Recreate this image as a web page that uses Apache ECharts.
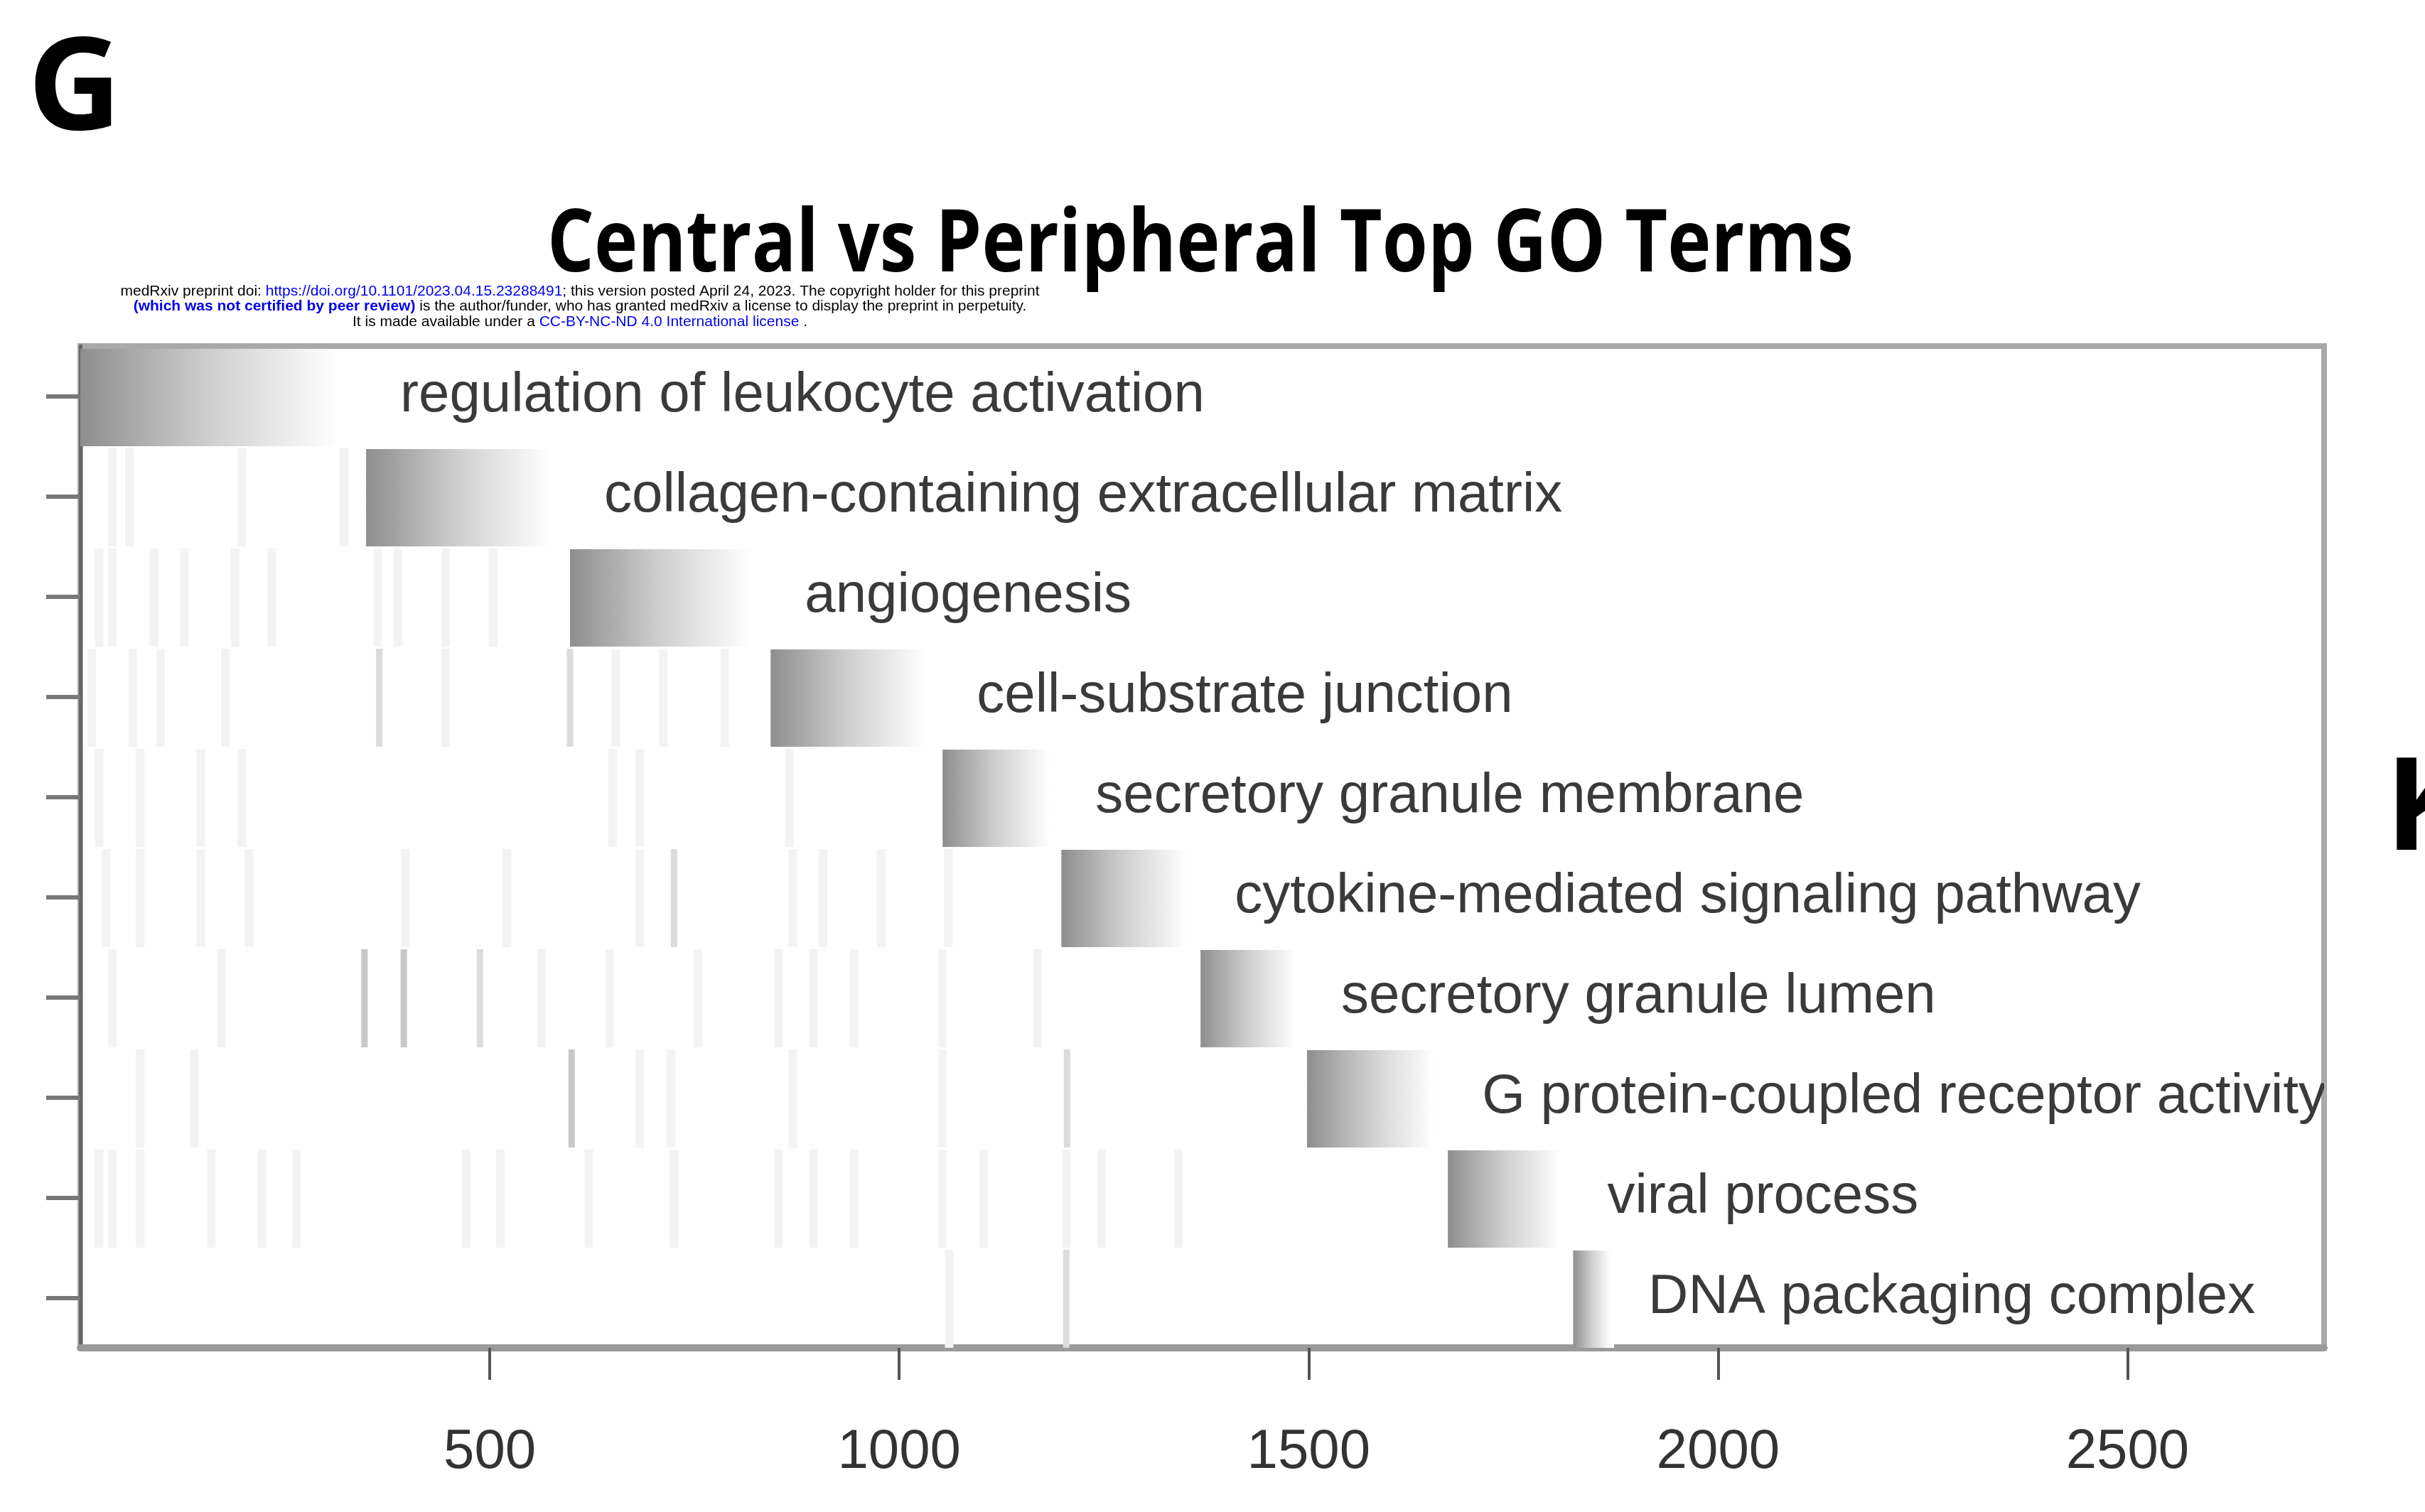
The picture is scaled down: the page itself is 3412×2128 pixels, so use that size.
<!DOCTYPE html>
<html>
<head>
<meta charset="utf-8">
<script src="https://cdn.jsdelivr.net/npm/echarts@6/dist/echarts.min.js"></script>
<style>
  html, body { margin: 0; padding: 0; background: #fff; }
  #chart { width: 3412px; height: 2128px; }
</style>
</head>
<body>
<div id="chart"></div>
<script>
// GO terms, top to bottom
const terms = [
  "regulation of leukocyte activation",
  "collagen-containing extracellular matrix",
  "angiogenesis",
  "cell-substrate junction",
  "secretory granule membrane",
  "cytokine-mediated signaling pathway",
  "secretory granule lumen",
  "G protein-coupled receptor activity",
  "viral process",
  "DNA packaging complex"
];
// rank range covered by each term's block
const termStart = [0, 349, 598, 843, 1053, 1198, 1368, 1498, 1670, 1823];
const termEnd = [349, 598, 843, 1053, 1198, 1368, 1498, 1670, 1823, 1873];
const xTicks = [500, 1000, 1500, 2000, 2500];

// barcode marks per row: [rank, intensity 1..3]
const barcodeRow2 = [[39, 1], [60, 1], [197, 1], [322, 1]];
const barcodeRow3 = [[23, 1], [39, 1], [90, 1], [127, 1], [189, 1], [234, 1], [363, 1], [388, 1], [446, 1], [504, 1]];
const barcodeRow4 = [[14, 1], [64, 1], [98, 1], [177, 1], [365, 2], [446, 1], [598, 2], [654, 1], [712, 1], [787, 1]];
const barcodeRow5 = [[23, 1], [73, 1], [147, 1], [197, 1], [650, 1], [683, 1], [866, 1]];
const barcodeRow6 = [[31, 1], [73, 1], [147, 1], [206, 1], [397, 1], [521, 1], [683, 1], [725, 2], [870, 1], [907, 1], [978, 1], [1060, 1]];
const barcodeRow7 = [[39, 1], [172, 1], [347, 3], [395, 3], [488, 2], [563, 1], [646, 1], [754, 1], [853, 1], [895, 1], [945, 1], [1053, 1], [1169, 1]];
const barcodeRow8 = [[73, 1], [139, 1], [600, 3], [683, 1], [721, 1], [870, 1], [1053, 1], [1205, 2]];
const barcodeRow9 = [[23, 1], [39, 1], [73, 1], [160, 1], [222, 1], [264, 1], [471, 1], [513, 1], [621, 1], [725, 1], [853, 1], [895, 1], [945, 1], [1053, 1], [1103, 1], [1204, 1], [1247, 1], [1341, 1]];
const barcodeRow10 = [[1061, 1], [1204, 2]];

const barcodeRows = [[], barcodeRow2, barcodeRow3, barcodeRow4, barcodeRow5,
  barcodeRow6, barcodeRow7, barcodeRow8, barcodeRow9, barcodeRow10];

const barcodeData = [];
barcodeRows.forEach((row, i) => row.forEach(b => barcodeData.push([b[0], i, b[1]])));

const shade = { 1: "#f3f3f3", 2: "#dcdcdc", 3: "#c8c8c8" };

const chart = echarts.init(document.getElementById("chart"));

const option = {
  backgroundColor: "#fff",
  animation: false,
  grid: {
    left: 113, right: 142, top: 487, bottom: 231,
    show: true, borderColor: "#a9a9a9", borderWidth: 8
  },
  xAxis: {
    type: "value",
    min: 0, max: 2740, interval: 500,
    splitLine: { show: false },
    axisLine: { show: true, lineStyle: { color: "#9a9a9a", width: 10 } },
    axisTick: { show: true, customValues: xTicks, length: 45, lineStyle: { color: "#555", width: 4 } },
    axisLabel: {
      customValues: xTicks,
      formatter: v => String(v),
      margin: 108, fontSize: 78, color: "#333", fontFamily: "Liberation Sans"
    }
  },
  yAxis: {
    type: "category",
    data: terms,
    inverse: true,
    axisLine: { show: true, lineStyle: { color: "#666", width: 5 } },
    axisTick: { show: true, alignWithLabel: true, length: 48, lineStyle: { color: "#777", width: 6 } },
    axisLabel: { show: false },
    splitLine: { show: false }
  },
  series: [
    {
      type: "custom",
      name: "barcode",
      clip: true,
      data: barcodeData,
      encode: { x: 0, y: 1 },
      renderItem: (params, api) => {
        const p = api.coord([api.value(0), api.value(1)]);
        const h = api.size([0, 1])[1];
        const w = api.value(2) > 1 ? 9 : 12;
        return {
          type: "rect",
          shape: { x: p[0] - w / 2, y: p[1] - h / 2 + 3, width: w, height: h - 3 },
          style: { fill: shade[api.value(2)] }
        };
      }
    },
    {
      type: "custom",
      name: "terms",
      clip: true,
      data: terms.map((t, i) => [termStart[i], termEnd[i], i]),
      encode: { x: [0, 1], y: 2 },
      renderItem: (params, api) => {
        const i = params.dataIndex;
        const s = api.coord([api.value(0), api.value(2)]);
        const e = api.coord([api.value(1), api.value(2)]);
        const h = api.size([0, 1])[1];
        return {
          type: "group",
          children: [
            {
              type: "rect",
              shape: { x: s[0], y: s[1] - h / 2 + 4, width: e[0] - s[0], height: h - 4 },
              style: {
                fill: new echarts.graphic.LinearGradient(0, 0, 1, 0, [
                  { offset: 0, color: "#8e8e8e" },
                  { offset: 0.45, color: "#cfcfcf" },
                  { offset: 0.9, color: "#ffffff" }
                ])
              }
            },
            {
              type: "text",
              x: e[0] + 48,
              y: s[1],
              style: {
                text: terms[i],
                fontSize: 78,
                fontFamily: "Liberation Sans",
                fill: "#3a3a3a",
                verticalAlign: "middle"
              }
            }
          ]
        };
      }
    }
  ],
  graphic: [
    {
      type: "text", x: 39, y: 130,
      style: { text: "G", font: 'bold 182px "Open Sans"', fill: "#000", verticalAlign: "middle" }
    },
    {
      type: "text", x: 3356, y: 1144,
      style: { text: "K", font: 'bold 182px "Open Sans"', fill: "#000", verticalAlign: "middle" }
    },
    {
      type: "text", x: 1689, y: 347, scaleX: 0.85,
      style: {
        text: "Central vs Peripheral Top GO Terms",
        font: 'bold 122px "Open Sans"', fill: "#000",
        align: "center", verticalAlign: "middle"
      }
    },
    {
      type: "text", x: 816, y: 410,
      style: {
        text: "{a|medRxiv preprint doi: }{b|https://doi.org/10.1101/2023.04.15.23288491}{a|; this version posted April 24, 2023. The copyright holder for this preprint}",
        align: "center", verticalAlign: "middle",
        rich: {
          a: { fontSize: 21, fontFamily: "Liberation Sans", fill: "#000" },
          b: { fontSize: 21, fontFamily: "Liberation Sans", fill: "#0000ee" }
        }
      }
    },
    {
      type: "text", x: 816, y: 431,
      style: {
        text: "{b|(which was not certified by peer review)}{a| is the author/funder, who has granted medRxiv a license to display the preprint in perpetuity.}",
        align: "center", verticalAlign: "middle",
        rich: {
          a: { fontSize: 21, fontFamily: "Liberation Sans", fill: "#000" },
          b: { fontSize: 21, fontFamily: "Liberation Sans", fontWeight: "bold", fill: "#0000ee" }
        }
      }
    },
    {
      type: "text", x: 816, y: 453,
      style: {
        text: "{a|It is made available under a }{b|CC-BY-NC-ND 4.0 International license}{a| .}",
        align: "center", verticalAlign: "middle",
        rich: {
          a: { fontSize: 21, fontFamily: "Liberation Sans", fill: "#000" },
          b: { fontSize: 21, fontFamily: "Liberation Sans", fill: "#0000ee" }
        }
      }
    }
  ]
};

chart.setOption(option);
</script>
</body>
</html>
